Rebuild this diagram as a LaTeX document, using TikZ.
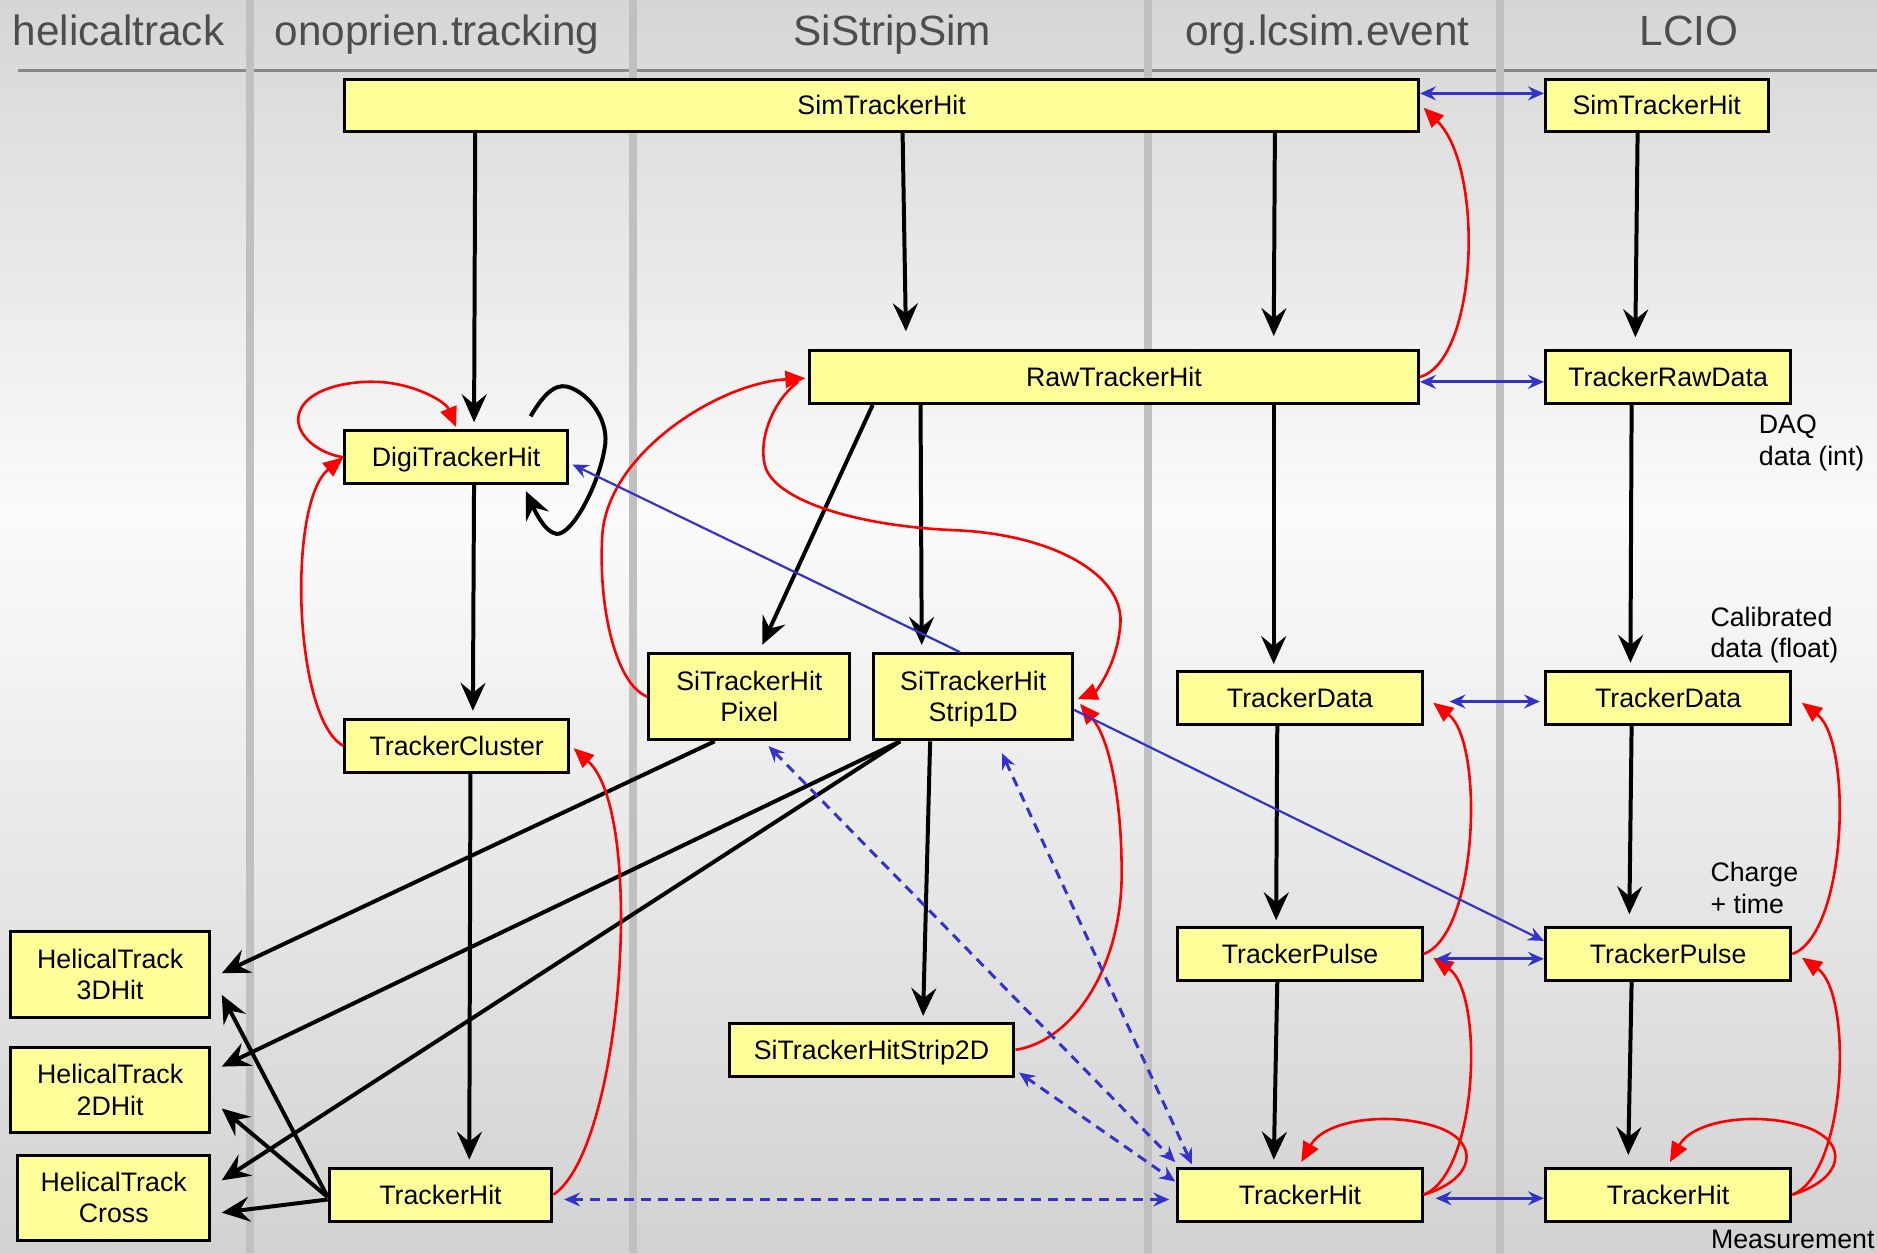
\documentclass[tikz,border=0pt]{standalone}
\usepackage{fontspec}
\setmainfont{Liberation Sans}
\usetikzlibrary{arrows.meta,calc}

\definecolor{boxfill}{HTML}{FFFF99}
\definecolor{linkblue}{HTML}{3333CC}
\definecolor{bartone}{HTML}{C0C0C0}
\definecolor{headtext}{HTML}{4D4D4D}
\definecolor{bgtop}{HTML}{D6D6D6}
\definecolor{bgmid}{HTML}{FBFBFB}
\definecolor{bgbot}{HTML}{D2D2D2}
\definecolor{rulegray}{HTML}{888888}

% a line whose descenders do not shift the box text upwards
\newcommand{\nodepth}[1]{\raisebox{0pt}[\height][0pt]{#1}}

\begin{document}
\begin{tikzpicture}[x=0.6pt,y=-0.6pt,
  box/.style={draw=black,line width=1.5pt,fill=boxfill,inner sep=0pt,align=center,
    font=\fontsize{13.4}{15.6}\selectfont,minimum height=26.4pt},
  tall/.style={minimum height=43.2pt},
  head/.style={anchor=base,font=\fontsize{21.2}{24}\selectfont,text=headtext,inner sep=0pt},
  note/.style={anchor=base west,font=\fontsize{13.4}{16}\selectfont,inner sep=0pt},
  flow/.style={line width=2pt,-{Stealth[length=14pt,width=12.5pt,inset=5pt]}},
  back/.style={red,line width=1.3pt,-{Triangle[length=10pt,width=8.5pt]}},
  link/.style={linkblue,line width=1.4pt,{Stealth[length=8pt,width=7pt,inset=2.8pt]}-{Stealth[length=8pt,width=7pt,inset=2.8pt]}},
  ref/.style={linkblue,line width=1.1pt,-{Stealth[length=8pt,width=7pt,inset=2.8pt]}},
  assoc/.style={linkblue,line width=1.5pt,dash pattern=on 5pt off 3.5pt,
    {Stealth[length=8pt,width=7pt,inset=2.8pt]}-{Stealth[length=8pt,width=7pt,inset=2.8pt]}},
]
\useasboundingbox (0,0) rectangle (1568,1047);

% background
\shade[top color=bgtop,bottom color=bgmid] (0,0) rectangle (1568,430);
\shade[top color=bgmid,bottom color=bgbot] (0,429) rectangle (1568,1047);
\draw[rulegray,line width=1.3pt] (15,59) -- (1568,59);
\foreach \bx in {209,529,959,1253}
  \fill[bartone] (\bx-3.5,0) rectangle (\bx+3.5,1047);

% package headers
\node[head] (hHel) at (99,37.6) {helicaltrack};
\node[head] (hOno) at (365,37.6) {onoprien.tracking};
\node[head] (hSSS) at (745.5,37.6) {SiStripSim};
\node[head] (hOrg) at (1109,37.6) {org.lcsim.event};
\node[head] (hLCIO) at (1411,37.6) {LCIO};

% classes
\node[box,minimum width=538.2pt] (simL) at (736.5,88) {SimTrackerHit};
\node[box,minimum width=111.6pt] (simR) at (1384,88) {SimTrackerHit};
\node[box,minimum width=305.4pt] (raw) at (930.5,315) {RawTrackerHit};
\node[box,minimum width=123pt] (rawR) at (1393.5,315) {TrackerRawData};
\node[box,minimum width=111.6pt] (digi) at (381,382) {\nodepth{DigiTrackerHit}};
\node[box,minimum width=112.2pt] (clus) at (381.5,623) {TrackerCluster};
\node[box,tall,minimum width=100.8pt] (pix) at (626,582) {SiTrackerHit\\Pixel};
\node[box,tall,minimum width=99.6pt] (s1d) at (813,582) {SiTrackerHit\\\nodepth{Strip1D}};
\node[box,minimum width=122.4pt] (tdO) at (1086,583) {TrackerData};
\node[box,minimum width=123pt] (tdL) at (1393.5,583) {TrackerData};
\node[box,minimum width=122.4pt] (tpO) at (1086,797) {TrackerPulse};
\node[box,minimum width=123pt] (tpL) at (1393.5,797) {TrackerPulse};
\node[box,minimum width=142.8pt] (s2d) at (728,877) {\nodepth{SiTrackerHitStrip2D}};
\node[box,minimum width=111.6pt] (thA) at (368,998) {TrackerHit};
\node[box,minimum width=122.4pt] (thO) at (1086,998) {TrackerHit};
\node[box,minimum width=123pt] (thL) at (1393.5,998) {TrackerHit};
\node[box,tall,minimum width=99.6pt] (h3) at (92,814) {HelicalTrack\\3DHit};
\node[box,minimum width=99.6pt,minimum height=42.6pt] (h2) at (92,910.5) {HelicalTrack\\2DHit};
\node[box,minimum width=96pt,minimum height=42.6pt] (hc) at (95,1000.5) {HelicalTrack\\Cross};

% side notes
\node[note] (nDaq1) at (1469,362) {DAQ};
\node[note] (nDaq2) at (1469,388.5) {data (int)};
\node[note] (nCal1) at (1428.6,523.6) {Calibrated};
\node[note] (nCal2) at (1428.6,549) {data (float)};
\node[note] (nChg1) at (1428.6,736) {Charge};
\node[note] (nChg2) at (1428.6,763) {+ time};
\node[note] (nMeas) at (1429,1042.8) {Measurement};

% processing flow
\draw[flow,shorten >=3.6pt] (simL.south -| 397,0) -- (digi.north -| 396,0);
\draw[flow,shorten >=9pt] (simL.south -| 754,0) -- (raw.north -| 757,0);
\draw[flow,shorten >=6.6pt] (simL.south -| 1065,0) -- (raw.north -| 1064,0);
\draw[flow,shorten >=6pt] (simR.south -| 1368,0) -- (rawR.north -| 1366,0);
\draw[flow,shorten >=3.6pt] (digi.south -| 396,0) -- (clus.north -| 395,0);
\draw[flow,shorten >=4pt] (raw.south -| 729,0) -- (pix.north -| 634,0);
\draw[flow,shorten >=3.6pt] (raw.south -| 769,0) -- (s1d.north -| 770,0);
\draw[flow,shorten >=3pt] (raw.south -| 1064,0) -- (tdO.north -| 1064,0);
\draw[flow,shorten >=3.6pt] (rawR.south -| 1363,0) -- (tdL.north -| 1362,0);
\draw[flow,shorten >=3pt] (tdO.south -| 1067,0) -- (tpO.north -| 1066,0);
\draw[flow,shorten >=6pt] (tdL.south -| 1363,0) -- (tpL.north -| 1361,0);
\draw[flow,shorten >=3.6pt] (tpO.south -| 1067,0) -- (thO.north -| 1064,0);
\draw[flow,shorten >=6pt] (tpL.south -| 1363,0) -- (thL.north -| 1360,0);
\draw[flow,shorten >=3.6pt] (clus.south -| 393,0) -- (thA.north -| 392,0);
\draw[flow,shorten >=3pt] (s1d.south -| 777,0) -- (s2d.north -| 771,0);
\draw[flow] ($(pix.south)+(-29,0)$) -- ($(h3.east)+(9,-1)$);
\draw[flow] ($(s1d.south)+(-61,0)$) -- ($(h2.east)+(9,-19.5)$);
\draw[flow] ($(s1d.south)+(-61,0)$) -- ($(hc.east)+(9,-14.5)$);
\draw[flow] ($(thA.west)+(0,2)$) -- ($(h3.east)+(9,17)$);
\draw[flow] ($(thA.west)+(0,2)$) -- ($(h2.east)+(9,15.5)$);
\draw[flow] ($(thA.west)+(0,4)$) -- ($(hc.east)+(9,12.5)$);
% DigiTrackerHit feeding itself
\draw[flow] ($(digi.north east)+(-32,-11)$) .. controls (452,333) and (462,320) .. (474,323)
  .. controls (492,328) and (510,352) .. (505,375)
  .. controls (500,405) and (478,447) .. (465,446)
  .. controls (455,445) and (446,425) .. ($(digi.south east)+(-36,5)$);

% back references
\draw[back] (raw.east) .. controls (1235,300) and (1240,140) .. ($(simL.east)+(3,2)$);
\draw[back] (digi.west) .. controls (262,378) and (245,360) .. (250,345)
  .. controls (256,325) and (290,318) .. (315,319)
  .. controls (345,320) and (372,335) .. ($(digi.north)+(0,-2)$);
\draw[back] (clus.west) .. controls (245,600) and (240,420) .. (digi.west);
\draw[back] (thA.east) .. controls (520,960) and (540,680) .. ($(clus.east)+(3,2)$);
\draw[back] (pix.west) .. controls (515,572) and (500,510) .. (503,450)
  .. controls (505,380) and (600,320) .. ($(raw.west)+(-2,1)$);
\draw[back] ($(raw.west)+(-8,4)$) .. controls (645,335) and (632,370) .. (640,392)
  .. controls (652,420) and (720,440) .. (800,443)
  .. controls (880,447) and (938,480) .. (936,520)
  .. controls (934,555) and (915,578) .. ($(s1d.east)+(3,2)$);
\draw[back] (s2d.east) .. controls (895,870) and (937,810) .. (937,730)
  .. controls (937,660) and (925,615) .. ($(s1d.east)+(5,6)$);
\draw[back] (tpO.east) .. controls (1235,780) and (1240,620) .. ($(tdO.east)+(8,4)$);
\draw[back] (thO.east) .. controls (1235,980) and (1240,830) .. ($(tpO.east)+(8,3)$);
\draw[back] (thO.east) .. controls (1232,985) and (1237,955) .. (1202,942)
  .. controls (1162,928) and (1107,935) .. ($(thO.north)+(1,-4)$);
\draw[back] (tpL.east) .. controls (1543,780) and (1548,620) .. ($(tdL.east)+(8,4)$);
\draw[back] (thL.east) .. controls (1543,980) and (1548,830) .. ($(tpL.east)+(8,3)$);
\draw[back] (thL.east) .. controls (1540,985) and (1545,955) .. (1510,942)
  .. controls (1470,928) and (1415,935) .. ($(thL.north)+(1.5,-4)$);

% LCIO correspondence
\draw[link] (simL.east |- 0,78) -- (simR.west |- 0,78);
\draw[link] (raw.east |- 0,319) -- (rawR.west |- 0,319);
\draw[link,shorten <=13pt,shorten >=2pt] (tdO.east |- 0,586) -- (tdL.west |- 0,586);
\draw[link,shorten <=6pt] (tpO.east |- 0,801) -- (tpL.west |- 0,801);
\draw[link,shorten <=6pt] (thO.east |- 0,1001) -- (thL.west |- 0,1001);
\draw[ref] (s1d.east |- 0,593) -- (tpL.west |- 0,786);
\draw[ref] ($(s1d.north)+(-11,0)$) -- ($(digi.east)+(3,6)$);

% hit associations
\draw[assoc] ($(thA.east)+(9,4)$) -- ($(thO.west)+(-6,4)$);
\draw[assoc] ($(pix.south)+(16,4)$) -- ($(thO.north west)+(-1,-4)$);
\draw[assoc] ($(s1d.south)+(24,10)$) -- ($(thO.north west)+(13,-2)$);
\draw[assoc] ($(s2d.east)+(3,19)$) -- ($(thO.west)+(-1,-11)$);
\end{tikzpicture}
\end{document}
